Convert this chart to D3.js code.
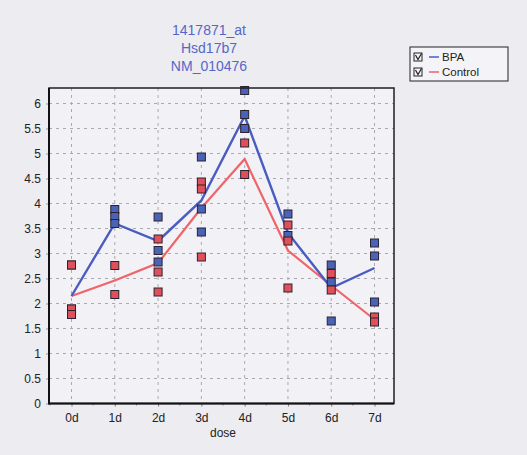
<!DOCTYPE html>
<html>
<head>
<meta charset="utf-8">
<script src="https://cdn.jsdelivr.net/npm/d3@7"></script>
<style>
  html, body { margin: 0; padding: 0; background: #edecf1; }
  svg { display: block; font-family: "Liberation Sans", Arial, sans-serif; }
</style>
</head>
<body>
<svg id="chart" width="527" height="455"></svg>
<script>
// ---- data ----
const titleLines = ["1417871_at", "Hsd17b7", "NM_010476"];
const days = ["0d", "1d", "2d", "3d", "4d", "5d", "6d", "7d"];
const yTicks = [0, 0.5, 1, 1.5, 2, 2.5, 3, 3.5, 4, 4.5, 5, 5.5, 6];
const yTickLabels = ["0", "0.5", "1", "1.5", "2", "2.5", "3", "3.5", "4", "4.5", "5", "5.5", "6"];
const seriesNames = ["BPA", "Control"];
const bpaPoints = [
  [2.77, 1.89, 1.78],
  [3.88, 3.74, 3.60],
  [3.73, 3.06, 2.83],
  [4.93, 3.89, 3.43],
  [6.26, 5.78, 5.50],
  [3.79, 3.36],
  [2.77, 2.43, 1.65],
  [3.21, 2.95, 2.03]
];
const controlPoints = [
  [2.77, 1.89, 1.78],
  [2.76, 2.18],
  [3.29, 2.63, 2.23],
  [4.43, 4.29, 2.93],
  [5.21, 4.58],
  [3.57, 3.25, 2.31],
  [2.60, 2.27],
  [1.73, 1.63]
];
const bpaMean = [2.15, 3.60, 3.25, 4.06, 5.75, 3.41, 2.31, 2.71];
const controlMean = [2.15, 2.46, 2.81, 3.91, 4.89, 3.06, 2.36, 1.68];

// ---- layout ----
const svg = d3.select("#chart");
const frame = { left: 49, right: 394, top: 88, bottom: 403.5 };
const colors = { BPA: "#4b5cc0", Control: "#ee6468" };
const fills = { BPA: "#4a63b6", Control: "#e0505a" };

const x = d3.scaleLinear().domain([-0.52, 7.45]).range([frame.left, frame.right]);
const y = d3.scaleLinear().domain([0, 6.31]).range([frame.bottom, frame.top]);

// plot background
svg.append("rect")
  .attr("x", frame.left).attr("y", frame.top)
  .attr("width", frame.right - frame.left).attr("height", frame.bottom - frame.top)
  .attr("fill", "#f2f1f6");

// grid
const grid = svg.append("g").attr("stroke", "#aaa9b0").attr("stroke-width", 1).attr("stroke-dasharray", "3,4");
grid.selectAll("line.h").data(yTicks.filter(v => v > 0)).enter().append("line")
  .attr("x1", frame.left).attr("x2", frame.right)
  .attr("y1", d => y(d)).attr("y2", d => y(d));
grid.selectAll("line.v").data(days).enter().append("line")
  .attr("x1", (d, i) => x(i)).attr("x2", (d, i) => x(i))
  .attr("y1", frame.top).attr("y2", frame.bottom);

// y axis
const yAxis = d3.axisLeft(y).tickValues(yTicks).tickSize(3).tickPadding(5)
  .tickFormat((d, i) => yTickLabels[i]);
const gy = svg.append("g").attr("transform", `translate(${frame.left},0)`).call(yAxis);
gy.select(".domain").remove();
gy.selectAll(".tick line").attr("stroke", "#999");
gy.selectAll("text").attr("font-size", 12).attr("fill", "#222");

// x axis
const xAxis = d3.axisBottom(x).tickValues(d3.range(days.length)).tickSize(3).tickPadding(7)
  .tickFormat(i => days[i]);
const gx = svg.append("g").attr("transform", `translate(0,${frame.bottom})`).call(xAxis);
gx.select(".domain").remove();
gx.selectAll(".tick line").attr("stroke", "#777");
gx.selectAll("text").attr("font-size", 12).attr("fill", "#222");
// minor ticks
svg.append("g").selectAll("line").data(d3.range(-0.5, 7.5, 1)).enter().append("line")
  .attr("x1", d => x(d)).attr("x2", d => x(d))
  .attr("y1", frame.bottom).attr("y2", frame.bottom + 2)
  .attr("stroke", "#888");

svg.append("text").attr("x", x(3.5)).attr("y", 437).attr("text-anchor", "middle")
  .attr("font-size", 12).attr("fill", "#222").text("dose");

// lines
const line = d3.line().x((d, i) => x(i)).y(d => y(d));
svg.append("path").datum(controlMean).attr("d", line)
  .attr("fill", "none").attr("stroke", colors.Control).attr("stroke-width", 2.2);
svg.append("path").datum(bpaMean).attr("d", line)
  .attr("fill", "none").attr("stroke", colors.BPA).attr("stroke-width", 2.4);

// points
function drawPoints(data, fill) {
  const flat = [];
  data.forEach((arr, i) => arr.forEach(v => flat.push({ i, v })));
  svg.append("g").selectAll("rect").data(flat).enter().append("rect")
    .attr("x", d => x(d.i) - 4).attr("y", d => y(d.v) - 4)
    .attr("width", 8).attr("height", 8)
    .attr("fill", fill).attr("stroke", "#2a2230").attr("stroke-width", 1);
}
drawPoints(bpaPoints, fills.BPA);
drawPoints(controlPoints, fills.Control);

// frame
svg.append("rect")
  .attr("x", frame.left).attr("y", frame.top)
  .attr("width", frame.right - frame.left).attr("height", frame.bottom - frame.top)
  .attr("fill", "none").attr("stroke", "#1e1e24").attr("stroke-width", 1.5);
svg.append("path")
  .attr("d", `M${frame.left},${frame.top}V${frame.bottom}H${frame.right}`)
  .attr("fill", "none").attr("stroke", "#111").attr("stroke-width", 2);

// title
svg.append("g").selectAll("text").data(titleLines).enter().append("text")
  .attr("x", 209).attr("y", (d, i) => 35 + i * 18)
  .attr("text-anchor", "middle").attr("font-size", 14).attr("fill", "#5567c6")
  .text(d => d);

// legend
const lg = svg.append("g");
lg.append("rect").attr("x", 410).attr("y", 47).attr("width", 98).attr("height", 34)
  .attr("fill", "#f4f3f7").attr("stroke", "#222").attr("stroke-width", 1);
seriesNames.forEach((name, k) => {
  const cy = 57 + k * 15;
  lg.append("rect").attr("x", 414).attr("y", cy - 4).attr("width", 8).attr("height", 8)
    .attr("fill", "none").attr("stroke", "#222").attr("stroke-width", 1);
  lg.append("path").attr("d", `M415.5,${cy - 2}L418,${cy + 2.5}L421.5,${cy - 3.5}`)
    .attr("fill", "none").attr("stroke", "#222").attr("stroke-width", 1.2);
  lg.append("line").attr("x1", 429).attr("x2", 439).attr("y1", cy).attr("y2", cy)
    .attr("stroke", colors[name]).attr("stroke-width", 1.5);
  lg.append("text").attr("x", 442).attr("y", cy + 4).attr("font-size", 11.5).attr("fill", "#222").text(name);
});
</script>
</body>
</html>
